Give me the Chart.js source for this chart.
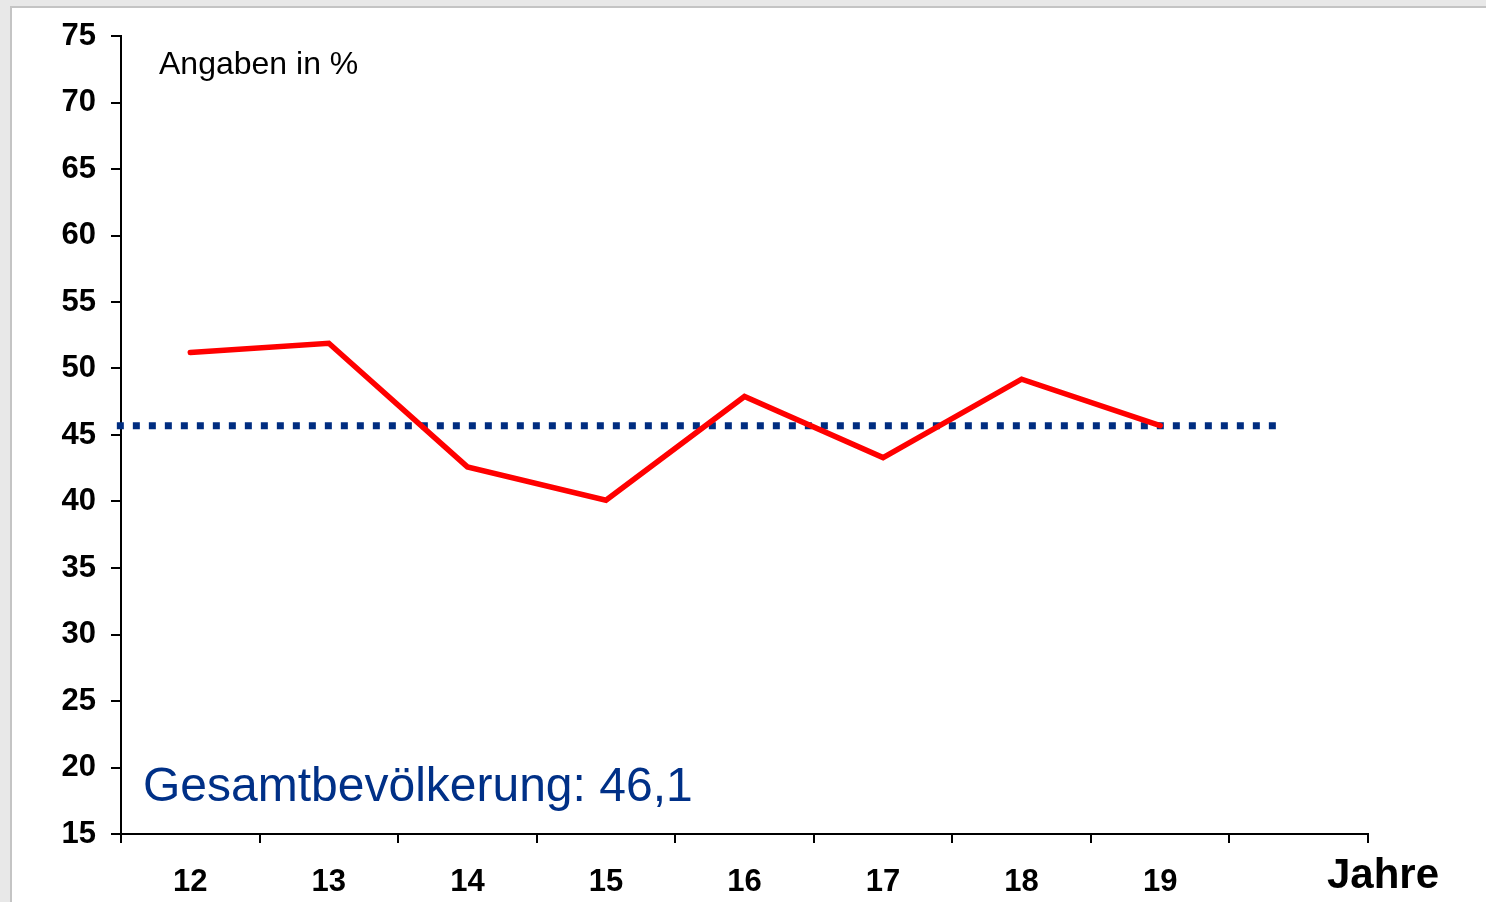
<!DOCTYPE html>
<html>
<head>
<meta charset="utf-8">
<script src="https://cdn.jsdelivr.net/npm/chart.js@4"></script>
<style>
html,body{margin:0;padding:0;}
body{width:1486px;height:902px;background:#e8e8e8;position:relative;overflow:hidden;font-family:"Liberation Sans",Arial,sans-serif;}
#panel{position:absolute;left:10px;top:6px;right:0;bottom:0;background:#fff;border-left:2px solid #c4c4c4;border-top:2px solid #c4c4c4;}
#wrap{position:absolute;left:0;top:0;width:1486px;height:902px;}
</style>
</head>
<body>
<div id="panel"></div>
<div id="wrap"><canvas id="chart"></canvas></div>
<script>
// categories (last slot is empty)
const years = ["12","13","14","15","16","17","18","19",""];
// share in %
const shares = [51.2, 51.9, 42.6, 40.1, 47.9, 43.3, 49.2, 45.7];
// overall population reference
const refValue = 45.7;
const refFrom = -0.53;   // in category units
const refTo = 7.84;
const yTicks = [15,20,25,30,35,40,45,50,55,60,65,70,75];

const unitLabel = "Angaben in %";
const refLabel = "Gesamtbevölkerung: 46,1";
const xTitle = "Jahre";

const FONT = "'Liberation Sans', Arial, sans-serif";

// extra texts
const textPlugin = {
    id:"texts",
    afterDraw(chart){
        const ctx = chart.ctx;
        const a = chart.chartArea;
        ctx.save();
        ctx.textBaseline = "alphabetic";
        ctx.textAlign = "left";
        ctx.fillStyle = "#000";
        ctx.font = "32px " + FONT;
        ctx.fillText(unitLabel, a.left + 38, a.top + 38);
        ctx.fillStyle = "#003087";
        ctx.font = "48px " + FONT;
        ctx.fillText(refLabel, a.left + 22, a.bottom - 33);
        ctx.fillStyle = "#000";
        ctx.font = "bold 42px " + FONT;
        ctx.fillText(xTitle, a.right - 41, a.bottom + 54);
        ctx.restore();
    }
};

new Chart(document.getElementById("chart"),{
    type:"line",
    data:{
        labels:years,
        datasets:[{
            data:shares,
            borderColor:"#ff0000",
            borderWidth:5.5,
            borderCapStyle:"round",
            borderJoinStyle:"miter",
            pointRadius:0,
            tension:0,
            fill:false
        },{
            data:[{x:refFrom,y:refValue},{x:refTo,y:refValue}],
            xAxisID:"x2",
            borderColor:"#002d80",
            borderWidth:7,
            borderDash:[7,9],
            borderCapStyle:"butt",
            pointRadius:0,
            clip:10,
            fill:false
        }]
    },
    options:{
        responsive:true,
        maintainAspectRatio:false,
        animation:false,
        layout:{padding:{top:36,right:118,left:0,bottom:0}},
        plugins:{legend:{display:false},tooltip:{enabled:false}},
        scales:{
            x:{
                type:"category",
                offset:true,
                grid:{offset:true,drawOnChartArea:false,color:"#000",lineWidth:2,tickLength:9},
                border:{color:"#000",width:2},
                ticks:{color:"#000",font:{family:FONT,size:31,weight:"bold"},padding:21,maxRotation:0,autoSkip:false},
                afterFit(s){ s.height = 68; }
            },
            x2:{
                type:"linear",
                display:false,
                min:-0.5,
                max:8.5
            },
            y:{
                min:15,
                max:75,
                afterBuildTicks(s){ s.ticks = yTicks.map(v=>({value:v})); },
                grid:{drawOnChartArea:false,color:"#000",lineWidth:2,tickLength:10},
                border:{color:"#000",width:2},
                ticks:{color:"#000",font:{family:FONT,size:31,weight:"bold"},padding:15},
                afterFit(s){ s.width = 121; }
            }
        }
    },
    plugins:[textPlugin]
});
</script>
</body>
</html>
